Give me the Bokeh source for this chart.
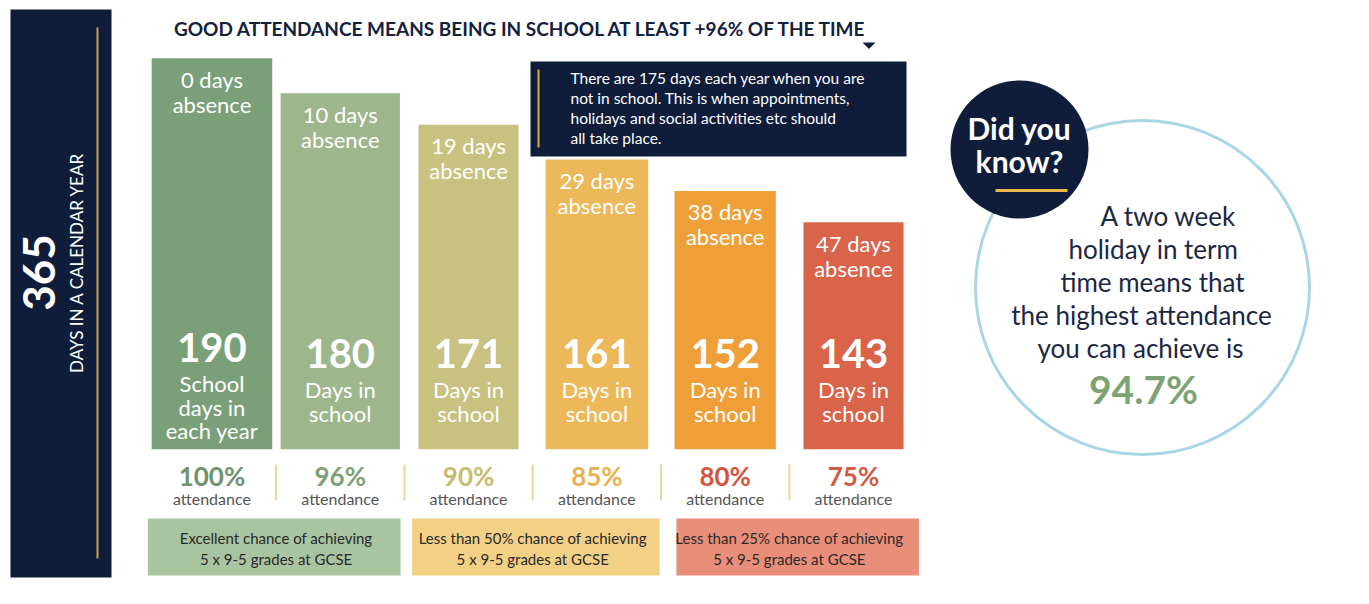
import math
from bokeh.plotting import figure
from bokeh.models import Range1d, ColumnDataSource
from bokeh.core.properties import value
from bokeh.embed import file_html
from bokeh.resources import INLINE

# ---------------- data ----------------
calendar_days = 365
days_in_school = [190, 180, 171, 161, 152, 143]
absence_days = [0, 10, 19, 29, 38, 47]
attendance_pct = [100, 96, 90, 85, 80, 75]
day_captions = [["School", "days in", "each year"], ["Days in", "school"], ["Days in", "school"],
                ["Days in", "school"], ["Days in", "school"], ["Days in", "school"]]
chance_groups = ["Excellent chance of achieving", "Less than 50% chance of achieving",
                 "Less than 25% chance of achieving"]
chance_sub = "5 x 9-5 grades at GCSE"
holiday_days = 10
title_text = "GOOD ATTENDANCE MEANS BEING IN SCHOOL AT LEAST +96% OF THE TIME"

# ---------------- styles ----------------
bar_colors = ["#7b9f79", "#9db68b", "#c9c17f", "#ecb85a", "#ee9f37", "#d9644a"]
pct_colors = ["#6f9470", "#7f9f77", "#c4bd72", "#e8b050", "#d4553e", "#cf5a45"]
bar_widths = [0.94, 0.93, 0.78, 0.80, 0.79, 0.78]
box_colors = ["#a9c4a0", "#f2d186", "#e98e78"]
NAVY = "#0f1d3b"
GOLD = "#c9a24b"
FONT = value("Lato")

W, H = 1353, 588
p = figure(width=W, height=H, x_range=Range1d(0, W), y_range=Range1d(H, 0),
           output_backend="svg", toolbar_location=None, min_border=0)
p.axis.visible = False
p.grid.visible = False
p.outline_line_color = None
p.background_fill_color = "white"
p.border_fill_color = "white"

# slot scale (category index) and days scale for the bars
p.extra_x_ranges = {"slot": Range1d(-1.648, 8.897)}
p.extra_y_ranges = {"days": Range1d(38.09, 206.57)}
baseline = 78

n = len(days_in_school)
slots = list(range(n))

bars = ColumnDataSource(dict(slot=slots, days=days_in_school, color=bar_colors, w=bar_widths,
                             abs1=[f"{a} days" for a in absence_days]))
p.vbar(x="slot", top="days", bottom=baseline, width="w", fill_color="color", line_color=None,
       source=bars, x_range_name="slot", y_range_name="days")

# absence labels following bar tops
p.text(x="slot", y="days", text="abs1", source=bars, x_range_name="slot", y_range_name="days",
       y_offset=21, text_align="center", text_baseline="middle", text_color="white",
       text_font=FONT, text_font_size="22px")
p.text(x="slot", y="days", text=value("absence"), source=bars, x_range_name="slot",
       y_range_name="days", y_offset=46, text_align="center", text_baseline="middle",
       text_color="white", text_font=FONT, text_font_size="22px")

# big numbers + captions
num_y = [353 - 6 * (len(c) - 2) for c in day_captions]
p.text(x=slots, y=num_y, text=[str(d) for d in days_in_school], x_range_name="slot",
       text_align="center", text_baseline="middle", text_color="white", text_font=FONT,
       text_font_style="bold", text_font_size="40px")
cx, cy, ct = [], [], []
for i, cap in enumerate(day_captions):
    for j, line in enumerate(cap):
        cx.append(i)
        cy.append(num_y[i] + 36 + j * 23.5)
        ct.append(line)
p.text(x=cx, y=cy, text=ct, x_range_name="slot", text_align="center", text_baseline="middle",
       text_color="white", text_font=FONT, text_font_size="22px")

# attendance percentages
p.text(x=slots, y=[475] * n, text=[f"{a}%" for a in attendance_pct], x_range_name="slot",
       text_align="center", text_baseline="middle", text_color=pct_colors, text_font=FONT,
       text_font_style="bold", text_font_size="26px")
p.text(x=slots, y=[498] * n, text=["attendance"] * n, x_range_name="slot", text_align="center",
       text_baseline="middle", text_color="#555555", text_font=FONT, text_font_size="16px")
p.segment(x0=[i + 0.5 for i in range(n - 1)], x1=[i + 0.5 for i in range(n - 1)],
          y0=[464] * (n - 1), y1=[500] * (n - 1), x_range_name="slot",
          line_color="#f1d49a", line_width=2)

# chance boxes
k = list(range(len(chance_groups)))
p.quad(left=[2 * g - 0.5 + 0.06 * g for g in k], right=[2 * g + 1.47 + 0.02 * g for g in k],
       top=[518] * 3, bottom=[575] * 3, fill_color=box_colors, line_color=None,
       x_range_name="slot")
p.text(x=[2 * g + 0.5 for g in k], y=[537] * 3, text=chance_groups, x_range_name="slot",
       text_align="center", text_baseline="middle", text_color="#2a2a2a", text_font=FONT,
       text_font_size="15px")
p.text(x=[2 * g + 0.5 for g in k], y=[558] * 3, text=[chance_sub] * 3, x_range_name="slot",
       text_align="center", text_baseline="middle", text_color="#2a2a2a", text_font=FONT,
       text_font_size="15px")

# left navy panel
p.quad(left=10, right=111, top=9, bottom=577, fill_color=NAVY, line_color=None)
p.segment(x0=97, x1=97, y0=27, y1=558, line_color=GOLD, line_width=2)
p.text(x=[38], y=[272], text=[str(calendar_days)], angle=math.pi / 2, text_align="center",
       text_baseline="middle", text_color="white", text_font=FONT, text_font_style="bold",
       text_font_size="44px")
p.text(x=[76], y=[262], text=["DAYS IN A CALENDAR YEAR"], angle=math.pi / 2,
       text_align="center", text_baseline="middle", text_color="white", text_font=FONT,
       text_font_size="17px")

# title
p.text(x=[521], y=[28], text=[title_text], text_align="center", text_baseline="middle",
       text_color="#14213d", text_font=FONT, text_font_style="bold", text_font_size="19px")
p.patch(x=[862, 875, 868.5], y=[42, 42, 48.5], fill_color=NAVY, line_color=None)

# callout
off_days = calendar_days - days_in_school[0]
callout = [f"There are {off_days} days each year when you are",
           "not in school. This is when appointments,",
           "holidays and social activities etc should",
           "all take place."]
p.quad(left=530, right=906, top=61, bottom=156, fill_color=NAVY, line_color=None)
p.segment(x0=538, x1=538, y0=69, y1=147, line_color="#d9a93e", line_width=2)
p.text(x=[570] * 4, y=[77, 97, 117, 137], text=callout, text_align="left",
       text_baseline="middle", text_color="white", text_font=FONT, text_font_size="15.5px")

# did you know
p.circle(x=[1142], y=[287], radius=167, fill_color=None, line_color="#a9d6e6", line_width=3)
p.circle(x=[1019], y=[149], radius=69, fill_color=NAVY, line_color=None)
p.text(x=[1019, 1019], y=[127, 160], text=["Did you", "know?"], text_align="center",
       text_baseline="middle", text_color="white", text_font=FONT, text_font_style="bold",
       text_font_size="30px")
p.segment(x0=995, x1=1067, y0=190, y1=190, line_color="#e8b84a", line_width=3)
best = (days_in_school[0] - holiday_days) / days_in_school[0] * 100
body = ["A two week", "holiday in term", "time means that", "the highest attendance",
        "you can achieve is"]
p.text(x=[1168, 1153, 1152, 1141, 1140], y=[215, 248, 281, 314, 347], text=body,
       text_align="center", text_baseline="middle", text_color="#1c2742", text_font=FONT,
       text_font_size="26px")
p.text(x=[1143], y=[388], text=[f"{best:.1f}%"], text_align="center", text_baseline="middle",
       text_color="#7ea373", text_font=FONT, text_font_style="bold", text_font_size="39px")

open("out.html", "w").write(file_html(p, INLINE))
